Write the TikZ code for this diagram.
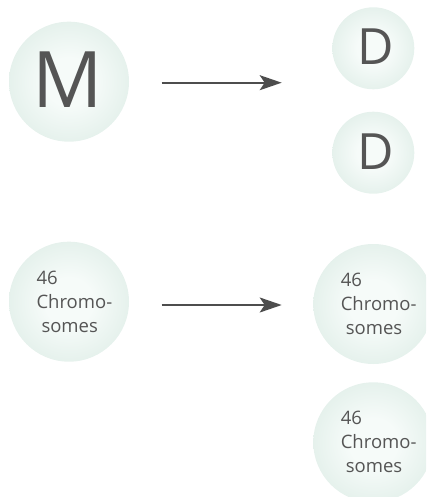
\documentclass[tikz,border=0pt]{standalone}
\usepackage{fontspec}
\setmainfont{Open Sans}
\usetikzlibrary{arrows.meta}
\definecolor{ink}{HTML}{555555}
\definecolor{arrink}{HTML}{4D4D4D}
\definecolor{ballin}{HTML}{F6FBF9}
\definecolor{ballmid}{HTML}{E0EEE8}
\definecolor{ballout}{HTML}{D2E6DD}
\pgfdeclareradialshading{ball}{\pgfpoint{0bp}{0bp}}{color(0bp)=(ballin); color(10bp)=(ballin); color(30bp)=(ballmid); color(50bp)=(ballout)}
\tikzset{
  cell/.style={circle, minimum size=#1, inner sep=0pt, draw=none, shading=ball},
  bigletter/.style={text=ink, inner sep=0pt, font=\fontsize{78}{78}\selectfont},
  smallletter/.style={text=ink, inner sep=0pt, font=\fontsize{50}{50}\selectfont},
  chromo/.style={text=ink, inner sep=0pt, anchor=west, align=left, font=\fontsize{18.5}{24}\selectfont},
  arr/.style={draw=arrink, line width=2pt, -{Stealth[length=22pt,width=15pt,inset=5pt]}}
}
\begin{document}
\begin{tikzpicture}[x=1pt,y=-1pt]
\useasboundingbox (0,0) rectangle (426,497);
\clip (0,0) rectangle (426,497);
% top row
\node[cell=120pt] (M) at (69,81.7) {};
\node[bigletter] (Mt) at (68,79.7) {M};
\node[cell=82pt] (D1) at (373.3,48.3) {};
\node[smallletter] (D1t) at (376,47) {D};
\node[cell=82pt] (D2) at (373.3,152.7) {};
\node[smallletter] (D2t) at (376,151.4) {D};
\coordinate (a1s) at (161.7,82.7);
\coordinate (a1e) at (281.7,82.7);
\draw[arr] (a1s) -- (a1e);
% bottom rows
\node[cell=120pt] (C0) at (69,301.7) {};
\node[chromo] (C0t) at (36.3,301.5) {46\\Chromo-\\\hspace{5pt}somes};
\node[cell=120pt] (C1) at (373.3,304) {};
\node[chromo] (C1t) at (340.6,304) {46\\Chromo-\\\hspace{5pt}somes};
\node[cell=120pt] (C2) at (373.3,442.3) {};
\node[chromo] (C2t) at (340.6,442.3) {46\\Chromo-\\\hspace{5pt}somes};
\coordinate (a2s) at (161.7,305);
\coordinate (a2e) at (281.7,305);
\draw[arr] (a2s) -- (a2e);
\end{tikzpicture}
\end{document}
